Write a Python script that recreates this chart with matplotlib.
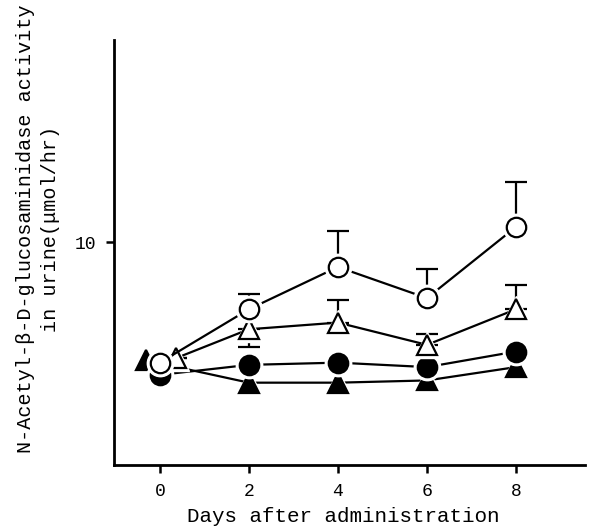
import matplotlib
matplotlib.use("Agg")
import matplotlib.pyplot as plt

# day positions (day 0 markers are offset slightly in the original)
days = [0, 2, 4, 6, 8]
x_open_circle = [0, 2, 4, 6, 8]
x_open_tri = [0.36, 2, 4, 6, 8]
x_fill_circle = [0, 2, 4, 6, 8]
x_fill_tri = [-0.3, 2, 4, 6, 8]

open_circle = [4.6, 7.0, 8.9, 7.5, 10.7]
open_circle_err = [0, 0.7, 1.6, 1.3, 2.0]
open_tri = [4.8, 6.1, 6.4, 5.4, 7.0]
open_tri_err_up = [0, 0, 1.0, 0.5, 1.1]
open_tri_err_down = [0, 0.8, 0, 0, 0]
fill_circle = [4.05, 4.5, 4.6, 4.4, 5.1]
fill_tri = [4.7, 3.7, 3.7, 3.8, 4.4]

plt.rcParams["font.family"] = ["Liberation Mono", "DejaVu Sans Mono"]

fig = plt.figure(figsize=(5.92, 5.32), dpi=100)
ax = fig.add_axes([114 / 592, 1 - 465 / 532, 471 / 592, 425 / 532])

lw = 1.6
ms = 14

def series(x, y, marker, face, err=None, zo=3):
    if err is not None:
        ax.errorbar(x, y, yerr=err, fmt="none", ecolor="black",
                    elinewidth=lw, capsize=8, capthick=lw, zorder=zo - 1)
    ax.plot(x, y, "-", color="black", lw=lw, zorder=zo - 1)
    # white halo so lines stop short of the markers
    ax.plot(x, y, linestyle="none", marker=marker, ms=ms + 5,
            mfc="white", mec="white", zorder=zo)
    ax.plot(x, y, linestyle="none", marker=marker, ms=ms,
            mfc=face, mec="black", mew=lw, zorder=zo + 1)

series(x_fill_tri, fill_tri, "^", "black", zo=3)
series(x_fill_circle, fill_circle, "o", "black", zo=5)
series(x_open_tri, open_tri, "^", "white",
       err=[open_tri_err_down, open_tri_err_up], zo=7)
series(x_open_circle, open_circle, "o", "white",
       err=[[0] * 5, open_circle_err], zo=9)

ax.set_xlim(-1.03, 9.55)
ax.set_ylim(0, 19.1)
ax.set_xticks(days)
ax.set_yticks([10])
ax.tick_params(direction="out", length=6, width=1.8, labelsize=13, pad=7)

for s in ["top", "right"]:
    ax.spines[s].set_visible(False)
for s in ["left", "bottom"]:
    ax.spines[s].set_linewidth(2)

ax.set_xlabel("Days after administration", fontsize=15, labelpad=5)
ax.xaxis.set_label_coords(0.487, -0.098)
ax.set_ylabel("N-Acetyl-\u03b2-D-glucosaminidase activity\n"
              "in urine(\u03bcmol/hr)", fontsize=14.5, linespacing=1.4)
ax.yaxis.set_label_coords(-0.115, 0.555)

plt.savefig("out.png", dpi=100)
